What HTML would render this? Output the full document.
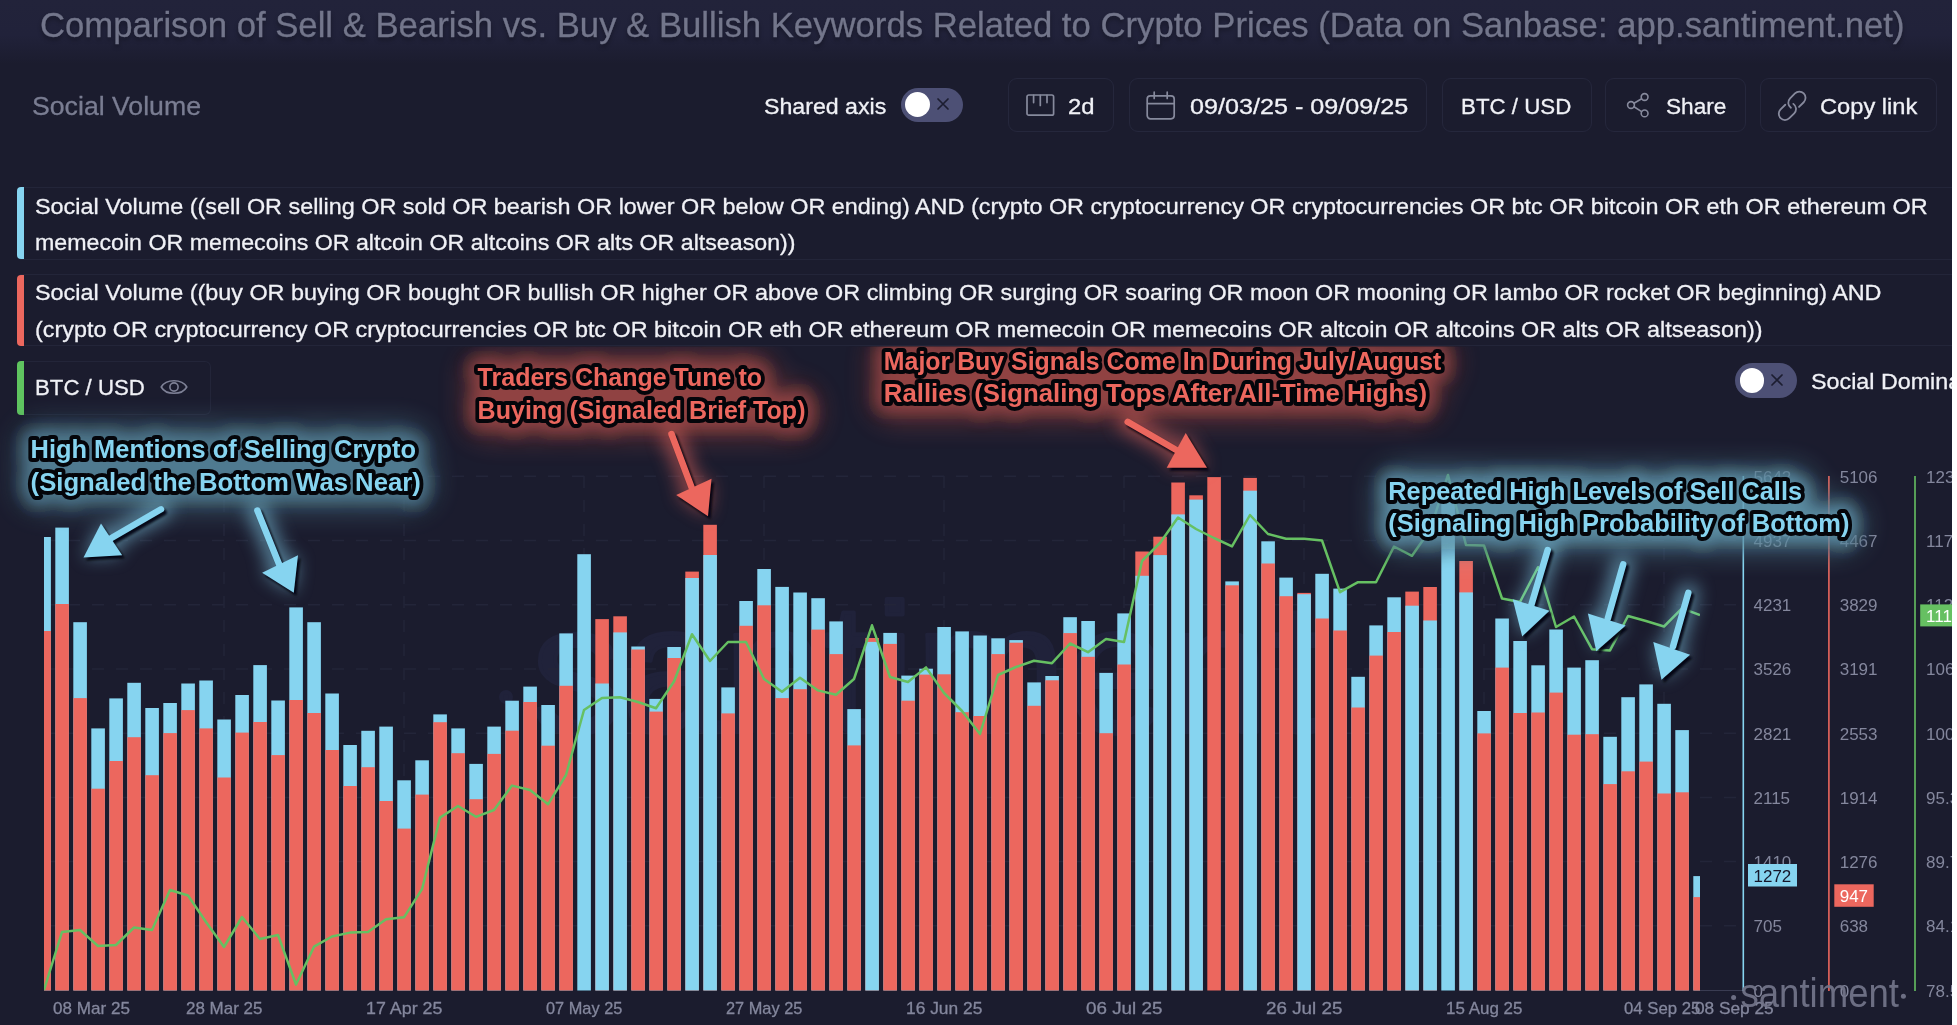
<!DOCTYPE html>
<html lang="en">
<head>
<meta charset="utf-8">
<title>Social Volume - Sell vs Buy keywords</title>
<style>
html,body{margin:0;padding:0;background:#1b1c2e;}
body{width:1957px;height:1025px;overflow:hidden;font-family:"Liberation Sans",sans-serif;}
#page{position:relative;width:1957px;height:1025px;overflow:hidden;background:#1b1c2e;}
#topgrad{position:absolute;left:0;top:0;width:1957px;height:64px;
  background:linear-gradient(#22233a 0%,#21223a 55%,#1b1c2e 100%);}
.t{-webkit-text-stroke:0.3px currentColor;position:absolute;white-space:pre;line-height:1;transform-origin:0 0;font-family:"Liberation Sans",sans-serif;}
.btn{position:absolute;box-sizing:border-box;border:1.5px solid #25273c;border-radius:9px;top:77.8px;height:53.8px;}
.row{position:absolute;box-sizing:border-box;border:1.3px solid #232539;border-left:none;border-radius:0 6px 6px 0;}
.bar{position:absolute;width:7.2px;border-radius:4px 0 0 4px;}
.tog{position:absolute;background:#4d5075;border-radius:18px;}
.knob{position:absolute;background:#ffffff;border-radius:50%;}
.ico{position:absolute;overflow:visible;}
#txt{position:absolute;left:0;top:0;width:1957px;height:1025px;will-change:transform;}
#strip{position:absolute;left:1952px;top:0;width:5px;height:1025px;background:#ffffff;}
</style>
</head>
<body>
<div id="page">
<div id="topgrad"></div>

<!-- toolbar buttons -->
<div class="btn" style="left:1008.2px;width:105.5px"></div>
<div class="btn" style="left:1129.1px;width:297.6px"></div>
<div class="btn" style="left:1442px;width:149.5px"></div>
<div class="btn" style="left:1605.2px;width:140.5px"></div>
<div class="btn" style="left:1759.5px;width:177.8px"></div>

<!-- shared axis toggle -->
<div class="tog" style="left:901px;top:87.9px;width:61.8px;height:34px"></div>
<div class="knob" style="left:905.2px;top:92.2px;width:25px;height:25px"></div>
<svg class="ico" style="left:936.8px;top:97.6px" width="12" height="12" viewBox="0 0 12 12"><path d="M1 1 L11 11 M11 1 L1 11" stroke="#1c1d30" stroke-width="1.7" stroke-linecap="round" fill="none"/></svg>

<!-- ruler icon -->
<svg class="ico" style="left:1026.4px;top:93.5px" width="29" height="23" viewBox="0 0 29 23"><g fill="none" stroke="#878a9d" stroke-width="1.7" stroke-linejoin="round" stroke-linecap="round"><rect x="1" y="1" width="26.6" height="20.2" rx="1.8"/><path d="M7.6 1.4 V8.6 M14.3 1.4 V11.4 M21 1.4 V8.6"/></g></svg>

<!-- calendar icon -->
<svg class="ico" style="left:1146px;top:90.5px" width="30" height="30" viewBox="0 0 30 30"><g fill="none" stroke="#878a9d" stroke-width="1.7" stroke-linejoin="round" stroke-linecap="round"><rect x="1.2" y="4.8" width="27" height="23" rx="3.2"/><path d="M1.6 12.6 H27.8 M8.2 1.2 V7.4 M21.2 1.2 V7.4"/></g></svg>

<!-- share icon -->
<svg class="ico" style="left:1626px;top:91.8px" width="25" height="27" viewBox="0 0 25 27"><g fill="none" stroke="#878a9d" stroke-width="1.6" stroke-linecap="round"><circle cx="18.6" cy="5" r="3.4"/><circle cx="5" cy="13" r="3.4"/><circle cx="18.6" cy="21.4" r="3.4"/><path d="M8 11.2 L15.6 6.8 M8 14.8 L15.6 19.6"/></g></svg>

<!-- link icon -->
<svg class="ico" style="left:1777px;top:90.8px" width="30" height="30" viewBox="0 0 30 30"><g fill="none" stroke="#878a9d" stroke-width="1.8" stroke-linecap="round" stroke-linejoin="round"><path transform="translate(19.9 9.3) rotate(-45)" d="M-9.55 1.08 A6.2 6.2 0 0 1 -3.45 -6.2 L3.45 -6.2 A6.2 6.2 0 0 1 3.45 6.2 L-3.2 6.2"/><path transform="translate(10.4 20.4) rotate(135)" d="M-9.55 1.08 A6.2 6.2 0 0 1 -3.45 -6.2 L3.45 -6.2 A6.2 6.2 0 0 1 3.45 6.2 L-3.2 6.2"/></g></svg>

<!-- legend rows -->
<div class="row" style="left:20px;top:187.3px;width:1940px;height:72.4px"></div>
<div class="bar" style="left:16.6px;top:187.3px;height:72.2px;background:#86d4f0"></div>
<div class="row" style="left:20px;top:274.4px;width:1940px;height:71.6px"></div>
<div class="bar" style="left:16.6px;top:274.6px;height:71.2px;background:#ec675e"></div>
<div class="row" style="left:20px;top:360.7px;width:190.6px;height:54.6px"></div>
<div class="bar" style="left:16.6px;top:360.7px;height:54.6px;background:#5fc45f"></div>

<!-- eye icon -->
<svg class="ico" style="left:159.6px;top:377.2px" width="28" height="20" viewBox="0 0 28 20"><g fill="none" stroke="#7e8196" stroke-width="1.6" stroke-linejoin="round"><path d="M1.2 10 C6 1.6 22 1.6 26.8 10 C22 18.4 6 18.4 1.2 10 Z"/><circle cx="14" cy="10" r="4.1"/></g></svg>

<!-- social dominance toggle -->
<div class="tog" style="left:1734.9px;top:363px;width:62.1px;height:35.3px"></div>
<div class="knob" style="left:1739.5px;top:368.4px;width:24.4px;height:24.4px"></div>
<svg class="ico" style="left:1770.6px;top:373.6px" width="12" height="12" viewBox="0 0 12 12"><path d="M1 1 L11 11 M11 1 L1 11" stroke="#1c1d30" stroke-width="1.7" stroke-linecap="round" fill="none"/></svg>

<div id="txt">
<span class="t" style="left:40.4px;top:7.7px;font-size:34.5px;color:#73768b;font-weight:400;transform:scaleX(1.0055);text-shadow:0 3px 4px rgba(0,0,0,.35);">Comparison of Sell &amp; Bearish vs. Buy &amp; Bullish Keywords Related to Crypto Prices (Data on Sanbase: app.santiment.net)</span>
<span class="t" style="left:31.9px;top:92.8px;font-size:26px;color:#7a7d92;font-weight:400;transform:scaleX(1.0257);">Social Volume</span>
<span class="t" style="left:764.3px;top:95.9px;font-size:22.2px;color:#f0f1f6;font-weight:400;transform:scaleX(1.0438);">Shared axis</span>
<span class="t" style="left:1068.3px;top:95.9px;font-size:22.2px;color:#f0f1f6;font-weight:400;transform:scaleX(1.0734);">2d</span>
<span class="t" style="left:1189.9px;top:95.9px;font-size:22.2px;color:#f0f1f6;font-weight:400;transform:scaleX(1.1338);">09/03/25 - 09/09/25</span>
<span class="t" style="left:1461.2px;top:95.8px;font-size:22.2px;color:#f0f1f6;font-weight:400;transform:scaleX(1.0053);">BTC / USD</span>
<span class="t" style="left:1665.6px;top:95.8px;font-size:22.2px;color:#f0f1f6;font-weight:400;transform:scaleX(1.0199);">Share</span>
<span class="t" style="left:1820.0px;top:95.8px;font-size:22.2px;color:#f0f1f6;font-weight:400;transform:scaleX(1.0661);">Copy link</span>
<span class="t" style="left:34.5px;top:196.3px;font-size:22.6px;color:#f0f1f6;font-weight:400;transform:scaleX(1.0352);">Social Volume ((sell OR selling OR sold OR bearish OR lower OR below OR ending) AND (crypto OR cryptocurrency OR cryptocurrencies OR btc OR bitcoin OR eth OR ethereum OR</span>
<span class="t" style="left:34.5px;top:232.1px;font-size:22.6px;color:#f0f1f6;font-weight:400;transform:scaleX(1.0266);">memecoin OR memecoins OR altcoin OR altcoins OR alts OR altseason))</span>
<span class="t" style="left:34.5px;top:282.4px;font-size:22.6px;color:#f0f1f6;font-weight:400;transform:scaleX(1.0348);">Social Volume ((buy OR buying OR bought OR bullish OR higher OR above OR climbing OR surging OR soaring OR moon OR mooning OR lambo OR rocket OR beginning) AND</span>
<span class="t" style="left:34.5px;top:318.9px;font-size:22.6px;color:#f0f1f6;font-weight:400;transform:scaleX(1.0337);">(crypto OR cryptocurrency OR cryptocurrencies OR btc OR bitcoin OR eth OR ethereum OR memecoin OR memecoins OR altcoin OR altcoins OR alts OR altseason))</span>
<span class="t" style="left:35.0px;top:376.7px;font-size:22.6px;color:#f0f1f6;font-weight:400;transform:scaleX(0.9836);">BTC / USD</span>
<span class="t" style="left:1811.0px;top:371.2px;font-size:22.6px;color:#f0f1f6;font-weight:400;transform:scaleX(1.0312);">Social Dominance</span>
<span class="t" style="left:186.0px;top:1000.1px;font-size:17px;color:#84879d;font-weight:400;transform:scaleX(0.9981);">28 Mar 25</span>
<span class="t" style="left:366.1px;top:1000.1px;font-size:17px;color:#84879d;font-weight:400;transform:scaleX(1.0497);">17 Apr 25</span>
<span class="t" style="left:545.8px;top:1000.1px;font-size:17px;color:#84879d;font-weight:400;transform:scaleX(0.9623);">07 May 25</span>
<span class="t" style="left:725.8px;top:1000.1px;font-size:17px;color:#84879d;font-weight:400;transform:scaleX(0.9623);">27 May 25</span>
<span class="t" style="left:905.8px;top:1000.1px;font-size:17px;color:#84879d;font-weight:400;transform:scaleX(1.0229);">16 Jun 25</span>
<span class="t" style="left:1085.8px;top:1000.1px;font-size:17px;color:#84879d;font-weight:400;transform:scaleX(1.1072);">06 Jul 25</span>
<span class="t" style="left:1265.8px;top:1000.1px;font-size:17px;color:#84879d;font-weight:400;transform:scaleX(1.1072);">26 Jul 25</span>
<span class="t" style="left:1445.8px;top:1000.1px;font-size:17px;color:#84879d;font-weight:400;transform:scaleX(0.9977);">15 Aug 25</span>
<span class="t" style="left:1623.5px;top:1000.1px;font-size:17px;color:#84879d;font-weight:400;transform:scaleX(0.9856);">04 Sep 25</span>
<span class="t" style="left:52.9px;top:1000.1px;font-size:17px;color:#84879d;font-weight:400;transform:scaleX(1.0046);">08 Mar 25</span>
<span class="t" style="left:1694.6px;top:1000.1px;font-size:17px;color:#84879d;font-weight:400;transform:scaleX(1.0153);">08 Sep 25</span>
</div>
<svg id="chart" width="1957" height="1025" viewBox="0 0 1957 1025" style="position:absolute;left:0;top:0;will-change:transform" font-family="Liberation Sans, sans-serif">
<defs><clipPath id="anc"><rect x="0" y="346.5" width="1957" height="680"/></clipPath><clipPath id="plot"><rect x="44" y="470" width="1656" height="525"/></clipPath><filter id="glow" x="-20%" y="-80%" width="140%" height="260%"><feGaussianBlur stdDeviation="13"/></filter><filter id="glowd" x="-15%" y="-90%" width="130%" height="280%"><feGaussianBlur stdDeviation="9"/></filter><filter id="glowt" x="-10%" y="-60%" width="120%" height="220%"><feGaussianBlur stdDeviation="7.5"/></filter><filter id="glow2" x="-80%" y="-80%" width="260%" height="260%"><feGaussianBlur stdDeviation="9"/></filter><filter id="sh" x="-30%" y="-30%" width="160%" height="160%"><feGaussianBlur stdDeviation="1.2"/></filter></defs>
<g fill="#20223a" stroke="#20223a" stroke-width="4" stroke-linejoin="round"><circle cx="506" cy="697" r="5"/><text x="531" y="732" font-size="184" textLength="788" lengthAdjust="spacingAndGlyphs">santiment</text></g>
<g stroke="#232539" stroke-width="1.5" stroke-dasharray="12 12" fill="none"><path d="M44 476.3 H1742"/><path d="M44 540.5 H1742"/><path d="M44 604.7 H1742"/><path d="M44 669 H1742"/><path d="M44 733.2 H1742"/><path d="M44 797.4 H1742"/><path d="M44 861.6 H1742"/><path d="M44 925.8 H1742"/><path d="M224 476 V990"/><path d="M404 476 V990"/><path d="M584 476 V990"/><path d="M764 476 V990"/><path d="M944 476 V990"/><path d="M1124 476 V990"/><path d="M1304 476 V990"/><path d="M1484 476 V990"/><path d="M1664 476 V990"/></g>
<g clip-path="url(#plot)" shape-rendering="auto"><rect x="37.3" y="537" width="13.6" height="453.5" fill="#86d4f0"/><rect x="37.3" y="631" width="13.6" height="359.5" fill="#ec675e"/><rect x="55.3" y="527.6" width="13.6" height="462.9" fill="#86d4f0"/><rect x="55.3" y="604" width="13.6" height="386.5" fill="#ec675e"/><rect x="73.3" y="622.2" width="13.6" height="368.3" fill="#86d4f0"/><rect x="73.3" y="698.1" width="13.6" height="292.4" fill="#ec675e"/><rect x="91.3" y="728.4" width="13.6" height="262.1" fill="#86d4f0"/><rect x="91.3" y="788.7" width="13.6" height="201.8" fill="#ec675e"/><rect x="109.3" y="698.4" width="13.6" height="292.1" fill="#86d4f0"/><rect x="109.3" y="761" width="13.6" height="229.5" fill="#ec675e"/><rect x="127.3" y="682.8" width="13.6" height="307.7" fill="#86d4f0"/><rect x="127.3" y="737.2" width="13.6" height="253.3" fill="#ec675e"/><rect x="145.3" y="708" width="13.6" height="282.5" fill="#86d4f0"/><rect x="145.3" y="775.2" width="13.6" height="215.3" fill="#ec675e"/><rect x="163.3" y="703" width="13.6" height="287.5" fill="#86d4f0"/><rect x="163.3" y="733.1" width="13.6" height="257.4" fill="#ec675e"/><rect x="181.3" y="683.5" width="13.6" height="307" fill="#86d4f0"/><rect x="181.3" y="710.1" width="13.6" height="280.4" fill="#ec675e"/><rect x="199.3" y="680.5" width="13.6" height="310" fill="#86d4f0"/><rect x="199.3" y="728.4" width="13.6" height="262.1" fill="#ec675e"/><rect x="217.3" y="719.5" width="13.6" height="271" fill="#86d4f0"/><rect x="217.3" y="777.5" width="13.6" height="213" fill="#ec675e"/><rect x="235.3" y="695" width="13.6" height="295.5" fill="#86d4f0"/><rect x="235.3" y="732.6" width="13.6" height="257.9" fill="#ec675e"/><rect x="253.3" y="665.1" width="13.6" height="325.4" fill="#86d4f0"/><rect x="253.3" y="722" width="13.6" height="268.5" fill="#ec675e"/><rect x="271.3" y="700.5" width="13.6" height="290" fill="#86d4f0"/><rect x="271.3" y="755.1" width="13.6" height="235.4" fill="#ec675e"/><rect x="289.3" y="607.4" width="13.6" height="383.1" fill="#86d4f0"/><rect x="289.3" y="700" width="13.6" height="290.5" fill="#ec675e"/><rect x="307.3" y="622.2" width="13.6" height="368.3" fill="#86d4f0"/><rect x="307.3" y="713" width="13.6" height="277.5" fill="#ec675e"/><rect x="325.3" y="693.5" width="13.6" height="297" fill="#86d4f0"/><rect x="325.3" y="750" width="13.6" height="240.5" fill="#ec675e"/><rect x="343.3" y="745" width="13.6" height="245.5" fill="#86d4f0"/><rect x="343.3" y="786" width="13.6" height="204.5" fill="#ec675e"/><rect x="361.3" y="730.8" width="13.6" height="259.7" fill="#86d4f0"/><rect x="361.3" y="767.2" width="13.6" height="223.3" fill="#ec675e"/><rect x="379.3" y="726.6" width="13.6" height="263.9" fill="#86d4f0"/><rect x="379.3" y="801" width="13.6" height="189.5" fill="#ec675e"/><rect x="397.3" y="780.3" width="13.6" height="210.2" fill="#86d4f0"/><rect x="397.3" y="828.6" width="13.6" height="161.9" fill="#ec675e"/><rect x="415.3" y="760.3" width="13.6" height="230.2" fill="#86d4f0"/><rect x="415.3" y="794.6" width="13.6" height="195.9" fill="#ec675e"/><rect x="433.3" y="714.4" width="13.6" height="276.1" fill="#86d4f0"/><rect x="433.3" y="722.2" width="13.6" height="268.3" fill="#ec675e"/><rect x="451.3" y="728.4" width="13.6" height="262.1" fill="#86d4f0"/><rect x="451.3" y="753.2" width="13.6" height="237.3" fill="#ec675e"/><rect x="469.3" y="763.9" width="13.6" height="226.6" fill="#86d4f0"/><rect x="469.3" y="799.2" width="13.6" height="191.3" fill="#ec675e"/><rect x="487.3" y="726.6" width="13.6" height="263.9" fill="#86d4f0"/><rect x="487.3" y="753.9" width="13.6" height="236.6" fill="#ec675e"/><rect x="505.3" y="700.7" width="13.6" height="289.8" fill="#86d4f0"/><rect x="505.3" y="730.7" width="13.6" height="259.8" fill="#ec675e"/><rect x="523.3" y="686.6" width="13.6" height="303.9" fill="#86d4f0"/><rect x="523.3" y="702" width="13.6" height="288.5" fill="#ec675e"/><rect x="541.3" y="705" width="13.6" height="285.5" fill="#86d4f0"/><rect x="541.3" y="745.7" width="13.6" height="244.8" fill="#ec675e"/><rect x="559.3" y="633.4" width="13.6" height="357.1" fill="#86d4f0"/><rect x="559.3" y="685.8" width="13.6" height="304.7" fill="#ec675e"/><rect x="577.3" y="554.2" width="13.6" height="436.3" fill="#86d4f0"/><rect x="595.3" y="619.1" width="13.6" height="371.4" fill="#ec675e"/><rect x="595.3" y="683.5" width="13.6" height="307" fill="#86d4f0"/><rect x="613.3" y="616.3" width="13.6" height="374.2" fill="#ec675e"/><rect x="613.3" y="632.4" width="13.6" height="358.1" fill="#86d4f0"/><rect x="631.3" y="646.5" width="13.6" height="344" fill="#86d4f0"/><rect x="631.3" y="649.5" width="13.6" height="341" fill="#ec675e"/><rect x="649.3" y="698.9" width="13.6" height="291.6" fill="#86d4f0"/><rect x="649.3" y="711.6" width="13.6" height="278.9" fill="#ec675e"/><rect x="667.3" y="647" width="13.6" height="343.5" fill="#86d4f0"/><rect x="667.3" y="658" width="13.6" height="332.5" fill="#ec675e"/><rect x="685.3" y="571.6" width="13.6" height="418.9" fill="#ec675e"/><rect x="685.3" y="578" width="13.6" height="412.5" fill="#86d4f0"/><rect x="703.3" y="524.8" width="13.6" height="465.7" fill="#ec675e"/><rect x="703.3" y="555" width="13.6" height="435.5" fill="#86d4f0"/><rect x="721.3" y="687.4" width="13.6" height="303.1" fill="#86d4f0"/><rect x="721.3" y="713.4" width="13.6" height="277.1" fill="#ec675e"/><rect x="739.3" y="601" width="13.6" height="389.5" fill="#86d4f0"/><rect x="739.3" y="625.8" width="13.6" height="364.7" fill="#ec675e"/><rect x="757.3" y="569" width="13.6" height="421.5" fill="#86d4f0"/><rect x="757.3" y="605.3" width="13.6" height="385.2" fill="#ec675e"/><rect x="775.3" y="586.9" width="13.6" height="403.6" fill="#86d4f0"/><rect x="775.3" y="698.1" width="13.6" height="292.4" fill="#ec675e"/><rect x="793.3" y="592.5" width="13.6" height="398" fill="#86d4f0"/><rect x="793.3" y="689.2" width="13.6" height="301.3" fill="#ec675e"/><rect x="811.3" y="598.2" width="13.6" height="392.3" fill="#86d4f0"/><rect x="811.3" y="629.6" width="13.6" height="360.9" fill="#ec675e"/><rect x="829.3" y="621.4" width="13.6" height="369.1" fill="#86d4f0"/><rect x="829.3" y="654.1" width="13.6" height="336.4" fill="#ec675e"/><rect x="847.3" y="709.1" width="13.6" height="281.4" fill="#86d4f0"/><rect x="847.3" y="745.4" width="13.6" height="245.1" fill="#ec675e"/><rect x="865.3" y="638" width="13.6" height="352.5" fill="#ec675e"/><rect x="865.3" y="641.9" width="13.6" height="348.6" fill="#86d4f0"/><rect x="883.3" y="632.9" width="13.6" height="357.6" fill="#86d4f0"/><rect x="883.3" y="643.9" width="13.6" height="346.6" fill="#ec675e"/><rect x="901.3" y="675.6" width="13.6" height="314.9" fill="#86d4f0"/><rect x="901.3" y="700.7" width="13.6" height="289.8" fill="#ec675e"/><rect x="919.3" y="668.7" width="13.6" height="321.8" fill="#86d4f0"/><rect x="919.3" y="674.6" width="13.6" height="315.9" fill="#ec675e"/><rect x="937.3" y="627" width="13.6" height="363.5" fill="#86d4f0"/><rect x="937.3" y="674.3" width="13.6" height="316.2" fill="#ec675e"/><rect x="955.3" y="631.4" width="13.6" height="359.1" fill="#86d4f0"/><rect x="955.3" y="712.2" width="13.6" height="278.3" fill="#ec675e"/><rect x="973.3" y="635.5" width="13.6" height="355" fill="#86d4f0"/><rect x="973.3" y="716" width="13.6" height="274.5" fill="#ec675e"/><rect x="991.3" y="638.3" width="13.6" height="352.2" fill="#86d4f0"/><rect x="991.3" y="654.1" width="13.6" height="336.4" fill="#ec675e"/><rect x="1009.3" y="640.1" width="13.6" height="350.4" fill="#86d4f0"/><rect x="1009.3" y="642.7" width="13.6" height="347.8" fill="#ec675e"/><rect x="1027.3" y="682.4" width="13.6" height="308.1" fill="#86d4f0"/><rect x="1027.3" y="705.8" width="13.6" height="284.7" fill="#ec675e"/><rect x="1045.3" y="676" width="13.6" height="314.5" fill="#86d4f0"/><rect x="1045.3" y="680.3" width="13.6" height="310.2" fill="#ec675e"/><rect x="1063.3" y="617.2" width="13.6" height="373.3" fill="#86d4f0"/><rect x="1063.3" y="633.1" width="13.6" height="357.4" fill="#ec675e"/><rect x="1081.3" y="621" width="13.6" height="369.5" fill="#86d4f0"/><rect x="1081.3" y="656.8" width="13.6" height="333.7" fill="#ec675e"/><rect x="1099.3" y="672.9" width="13.6" height="317.6" fill="#86d4f0"/><rect x="1099.3" y="733.2" width="13.6" height="257.3" fill="#ec675e"/><rect x="1117.3" y="613.4" width="13.6" height="377.1" fill="#86d4f0"/><rect x="1117.3" y="664.5" width="13.6" height="326" fill="#ec675e"/><rect x="1135.3" y="551.5" width="13.6" height="439" fill="#ec675e"/><rect x="1135.3" y="575.8" width="13.6" height="414.7" fill="#86d4f0"/><rect x="1153.3" y="536.7" width="13.6" height="453.8" fill="#ec675e"/><rect x="1153.3" y="555.1" width="13.6" height="435.4" fill="#86d4f0"/><rect x="1171.3" y="482.5" width="13.6" height="508" fill="#ec675e"/><rect x="1171.3" y="514.4" width="13.6" height="476.1" fill="#86d4f0"/><rect x="1189.3" y="495.3" width="13.6" height="495.2" fill="#ec675e"/><rect x="1189.3" y="499.6" width="13.6" height="490.9" fill="#86d4f0"/><rect x="1207.3" y="477.1" width="13.6" height="513.4" fill="#ec675e"/><rect x="1225.3" y="581.4" width="13.6" height="409.1" fill="#86d4f0"/><rect x="1225.3" y="585.3" width="13.6" height="405.2" fill="#ec675e"/><rect x="1243.3" y="477.9" width="13.6" height="512.6" fill="#ec675e"/><rect x="1243.3" y="490.7" width="13.6" height="499.8" fill="#86d4f0"/><rect x="1261.3" y="541.3" width="13.6" height="449.2" fill="#86d4f0"/><rect x="1261.3" y="563.5" width="13.6" height="427" fill="#ec675e"/><rect x="1279.3" y="577.6" width="13.6" height="412.9" fill="#86d4f0"/><rect x="1279.3" y="596.2" width="13.6" height="394.3" fill="#ec675e"/><rect x="1297.3" y="592.9" width="13.6" height="397.6" fill="#ec675e"/><rect x="1297.3" y="594.2" width="13.6" height="396.3" fill="#86d4f0"/><rect x="1315.3" y="573.8" width="13.6" height="416.7" fill="#86d4f0"/><rect x="1315.3" y="618.5" width="13.6" height="372" fill="#ec675e"/><rect x="1333.3" y="588.6" width="13.6" height="401.9" fill="#86d4f0"/><rect x="1333.3" y="630.5" width="13.6" height="360" fill="#ec675e"/><rect x="1351.3" y="676.8" width="13.6" height="313.7" fill="#86d4f0"/><rect x="1351.3" y="707.5" width="13.6" height="283" fill="#ec675e"/><rect x="1369.3" y="625.4" width="13.6" height="365.1" fill="#86d4f0"/><rect x="1369.3" y="655.6" width="13.6" height="334.9" fill="#ec675e"/><rect x="1387.3" y="597.3" width="13.6" height="393.2" fill="#86d4f0"/><rect x="1387.3" y="632" width="13.6" height="358.5" fill="#ec675e"/><rect x="1405.3" y="591.6" width="13.6" height="398.9" fill="#ec675e"/><rect x="1405.3" y="605.7" width="13.6" height="384.8" fill="#86d4f0"/><rect x="1423.3" y="587" width="13.6" height="403.5" fill="#ec675e"/><rect x="1423.3" y="620.5" width="13.6" height="370" fill="#86d4f0"/><rect x="1441.3" y="493" width="13.6" height="497.5" fill="#86d4f0"/><rect x="1459.3" y="561" width="13.6" height="429.5" fill="#ec675e"/><rect x="1459.3" y="592.4" width="13.6" height="398.1" fill="#86d4f0"/><rect x="1477.3" y="711" width="13.6" height="279.5" fill="#86d4f0"/><rect x="1477.3" y="733.4" width="13.6" height="257.1" fill="#ec675e"/><rect x="1495.3" y="618.5" width="13.6" height="372" fill="#86d4f0"/><rect x="1495.3" y="667.6" width="13.6" height="322.9" fill="#ec675e"/><rect x="1513.3" y="641" width="13.6" height="349.5" fill="#86d4f0"/><rect x="1513.3" y="713" width="13.6" height="277.5" fill="#ec675e"/><rect x="1531.3" y="665.3" width="13.6" height="325.2" fill="#86d4f0"/><rect x="1531.3" y="712.5" width="13.6" height="278" fill="#ec675e"/><rect x="1549.3" y="629.5" width="13.6" height="361" fill="#86d4f0"/><rect x="1549.3" y="692.6" width="13.6" height="297.9" fill="#ec675e"/><rect x="1567.3" y="667.6" width="13.6" height="322.9" fill="#86d4f0"/><rect x="1567.3" y="734.7" width="13.6" height="255.8" fill="#ec675e"/><rect x="1585.3" y="660.2" width="13.6" height="330.3" fill="#86d4f0"/><rect x="1585.3" y="734.2" width="13.6" height="256.3" fill="#ec675e"/><rect x="1603.3" y="736.8" width="13.6" height="253.7" fill="#86d4f0"/><rect x="1603.3" y="784.1" width="13.6" height="206.4" fill="#ec675e"/><rect x="1621.3" y="697.2" width="13.6" height="293.3" fill="#86d4f0"/><rect x="1621.3" y="771.3" width="13.6" height="219.2" fill="#ec675e"/><rect x="1639.3" y="684.4" width="13.6" height="306.1" fill="#86d4f0"/><rect x="1639.3" y="761.6" width="13.6" height="228.9" fill="#ec675e"/><rect x="1657.3" y="703.8" width="13.6" height="286.7" fill="#86d4f0"/><rect x="1657.3" y="793.5" width="13.6" height="197" fill="#ec675e"/><rect x="1675.3" y="730.1" width="13.6" height="260.4" fill="#86d4f0"/><rect x="1675.3" y="792.3" width="13.6" height="198.2" fill="#ec675e"/><rect x="1693.3" y="876.1" width="13.6" height="114.4" fill="#86d4f0"/><rect x="1693.3" y="897.1" width="13.6" height="93.4" fill="#ec675e"/></g>
<polyline clip-path="url(#plot)" points="44,990 62,932 80,930 98,946 116,945 134,927.5 152,930 170,890 188,895.5 206,922 224,947 242,917 260,939 278,935 296,984.5 314,946.7 332,936.5 350,932.6 368,932 386,919.3 404,917.3 422,889.2 440,817.6 458,806 476,816.8 494,810 512,785.6 530,790 548,804.3 566,775 584,710 602,698 620,697.3 638,702 656,708.3 674,681.5 692,634.2 710,661 728,642 746,642 764,679 782,691.7 800,677.7 818,690.4 836,694.8 854,679 872,625.3 890,677 908,682 926,667.4 944,693 962,711 980,734 998,675 1016,667 1034,660.7 1052,663.2 1070,643.5 1088,652.2 1106,639 1124,642 1142,561 1160,543 1178,517.5 1196,529 1214,538 1232,546.4 1250,515 1268,534 1286,538.7 1304,538.7 1322,540.5 1340,592.2 1358,582.2 1376,582.2 1394,546.5 1412,555.8 1430,530 1448,475 1466,545 1484,545.5 1502,598.5 1520,602 1538,567.2 1556,627 1574,616.5 1592,649.2 1610,650.4 1628,616 1646,621 1664,626.5 1682,608.4 1700,615" fill="none" stroke="#66c062" stroke-width="2.5" stroke-linejoin="round"/>
<path d="M1700 990.5 H1743" stroke="#3a3c52" stroke-width="1"/>
<path d="M1743.3 476 V991" stroke="#86d4f0" stroke-width="1.6"/>
<path d="M1828.9 476 V991" stroke="#ec675e" stroke-width="1.6"/>
<path d="M1915 476 V991" stroke="#66c062" stroke-width="1.6"/>
<g font-size="17" fill="#84879d">
<text x="1753.5" y="482.6">5642</text><text x="1839.7" y="482.6">5106</text><text x="1926" y="482.6">123K</text>
<text x="1753.5" y="546.8">4937</text><text x="1839.7" y="546.8">4467</text><text x="1926" y="546.8">117K</text>
<text x="1753.5" y="611">4231</text><text x="1839.7" y="611">3829</text><text x="1926" y="611">112K</text>
<text x="1753.5" y="675.3">3526</text><text x="1839.7" y="675.3">3191</text><text x="1926" y="675.3">106K</text>
<text x="1753.5" y="739.5">2821</text><text x="1839.7" y="739.5">2553</text><text x="1926" y="739.5">100K</text>
<text x="1753.5" y="803.7">2115</text><text x="1839.7" y="803.7">1914</text><text x="1926" y="803.7">95.3K</text>
<text x="1753.5" y="867.9">1410</text><text x="1839.7" y="867.9">1276</text><text x="1926" y="867.9">89.7K</text>
<text x="1753.5" y="932.1">705</text><text x="1839.7" y="932.1">638</text><text x="1926" y="932.1">84.1K</text>
<text x="1753.5" y="997.3">0</text><text x="1839.7" y="997.3">0</text><text x="1926" y="997.3">78.5K</text>
</g>
<rect x="1748" y="864" width="49" height="22.5" fill="#86d4f0"/><text x="1753.5" y="881.6" font-size="17" fill="#15162a">1272</text>
<rect x="1834.3" y="884.3" width="39.4" height="22.5" fill="#ec675e"/><text x="1839.7" y="901.9" font-size="17" fill="#ffffff">947</text>
<rect x="1920.2" y="604.4" width="40" height="22" fill="#66c062"/><text x="1926" y="621.8" font-size="17" fill="#ffffff">111K</text>
<g clip-path="url(#anc)">
<g filter="url(#glowd)" opacity="0.62" fill="#0b0c16" stroke="#0b0c16" stroke-width="34" stroke-linejoin="round" font-size="26.5" font-weight="700"><text x="30.6" y="457.6" textLength="385.4" lengthAdjust="spacingAndGlyphs">High Mentions of Selling Crypto</text><text x="30.6" y="490.5" textLength="390.2" lengthAdjust="spacingAndGlyphs">(Signaled the Bottom Was Near)</text></g>
<g filter="url(#glow)" opacity="0.3" fill="#86d4f0" stroke="#86d4f0" stroke-linejoin="round"><rect x="30.6" y="437.6" width="385.4" height="26" rx="12" stroke-width="30"/><rect x="30.6" y="470.5" width="390.2" height="26" rx="12" stroke-width="30"/></g>
<g filter="url(#glowt)" opacity="0.34" fill="#86d4f0" stroke="#86d4f0" stroke-width="22" stroke-linejoin="round" font-size="26.5" font-weight="700"><text x="30.6" y="457.6" textLength="385.4" lengthAdjust="spacingAndGlyphs">High Mentions of Selling Crypto</text><text x="30.6" y="490.5" textLength="390.2" lengthAdjust="spacingAndGlyphs">(Signaled the Bottom Was Near)</text></g>
<g filter="url(#glow2)" opacity="0.55"><line x1="161" y1="509.3" x2="108" y2="540" stroke="#86d4f0" stroke-width="20" stroke-linecap="round"/><path d="M83.5 557.5 L101 523.4 L122.2 555.2 Z" fill="#86d4f0"/><line x1="257.4" y1="510.5" x2="279.7" y2="565.7" stroke="#86d4f0" stroke-width="20" stroke-linecap="round"/><path d="M293.8 592.8 L262.1 572.8 L298 555.2 Z" fill="#86d4f0"/></g>
<g filter="url(#sh)" opacity="0.9" transform="translate(2.5,3)"><line x1="161" y1="509.3" x2="108" y2="540" stroke="#05060c" stroke-width="6.5" stroke-linecap="round"/><path d="M83.5 557.5 L101 523.4 L122.2 555.2 Z" fill="#05060c"/><line x1="257.4" y1="510.5" x2="279.7" y2="565.7" stroke="#05060c" stroke-width="6.5" stroke-linecap="round"/><path d="M293.8 592.8 L262.1 572.8 L298 555.2 Z" fill="#05060c"/></g>
<line x1="161" y1="509.3" x2="108" y2="540" stroke="#86d4f0" stroke-width="6.5" stroke-linecap="round"/><path d="M83.5 557.5 L101 523.4 L122.2 555.2 Z" fill="#86d4f0"/>
<line x1="257.4" y1="510.5" x2="279.7" y2="565.7" stroke="#86d4f0" stroke-width="6.5" stroke-linecap="round"/><path d="M293.8 592.8 L262.1 572.8 L298 555.2 Z" fill="#86d4f0"/>
<text x="30.6" y="457.6" font-size="26.5" font-weight="700" fill="#86d4f0" stroke="#04050a" stroke-width="8" stroke-linejoin="round" paint-order="stroke" textLength="385.4" lengthAdjust="spacingAndGlyphs">High Mentions of Selling Crypto</text>
<text x="30.6" y="490.5" font-size="26.5" font-weight="700" fill="#86d4f0" stroke="#04050a" stroke-width="8" stroke-linejoin="round" paint-order="stroke" textLength="390.2" lengthAdjust="spacingAndGlyphs">(Signaled the Bottom Was Near)</text>
<g filter="url(#glowd)" opacity="0.62" fill="#0b0c16" stroke="#0b0c16" stroke-width="34" stroke-linejoin="round" font-size="26.5" font-weight="700"><text x="477.6" y="385.8" textLength="284.4" lengthAdjust="spacingAndGlyphs">Traders Change Tune to</text><text x="477.6" y="418.7" textLength="327.9" lengthAdjust="spacingAndGlyphs">Buying (Signaled Brief Top)</text></g>
<g filter="url(#glow)" opacity="0.32" fill="#ec675e" stroke="#ec675e" stroke-linejoin="round"><rect x="477.6" y="365.8" width="284.4" height="26" rx="12" stroke-width="30"/><rect x="477.6" y="398.7" width="327.9" height="26" rx="12" stroke-width="30"/></g>
<g filter="url(#glowt)" opacity="0.38" fill="#ec675e" stroke="#ec675e" stroke-width="22" stroke-linejoin="round" font-size="26.5" font-weight="700"><text x="477.6" y="385.8" textLength="284.4" lengthAdjust="spacingAndGlyphs">Traders Change Tune to</text><text x="477.6" y="418.7" textLength="327.9" lengthAdjust="spacingAndGlyphs">Buying (Signaled Brief Top)</text></g>
<g filter="url(#glow2)" opacity="0.55"><line x1="671.5" y1="434" x2="692.7" y2="490.4" stroke="#ec675e" stroke-width="20" stroke-linecap="round"/><path d="M708 516.3 L676.2 495.1 L711.5 478.7 Z" fill="#ec675e"/></g>
<g filter="url(#sh)" opacity="0.9" transform="translate(2.5,3)"><line x1="671.5" y1="434" x2="692.7" y2="490.4" stroke="#05060c" stroke-width="6.5" stroke-linecap="round"/><path d="M708 516.3 L676.2 495.1 L711.5 478.7 Z" fill="#05060c"/></g>
<line x1="671.5" y1="434" x2="692.7" y2="490.4" stroke="#ec675e" stroke-width="6.5" stroke-linecap="round"/><path d="M708 516.3 L676.2 495.1 L711.5 478.7 Z" fill="#ec675e"/>
<text x="477.6" y="385.8" font-size="26.5" font-weight="700" fill="#ec675e" stroke="#04050a" stroke-width="8" stroke-linejoin="round" paint-order="stroke" textLength="284.4" lengthAdjust="spacingAndGlyphs">Traders Change Tune to</text>
<text x="477.6" y="418.7" font-size="26.5" font-weight="700" fill="#ec675e" stroke="#04050a" stroke-width="8" stroke-linejoin="round" paint-order="stroke" textLength="327.9" lengthAdjust="spacingAndGlyphs">Buying (Signaled Brief Top)</text>
<g filter="url(#glowd)" opacity="0.62" fill="#0b0c16" stroke="#0b0c16" stroke-width="34" stroke-linejoin="round" font-size="26.5" font-weight="700"><text x="883.8" y="369.6" textLength="557.6" lengthAdjust="spacingAndGlyphs">Major Buy Signals Come In During July/August</text><text x="883.8" y="402.2" textLength="543.4" lengthAdjust="spacingAndGlyphs">Rallies (Signaling Tops After All-Time Highs)</text></g>
<g filter="url(#glow)" opacity="0.32" fill="#ec675e" stroke="#ec675e" stroke-linejoin="round"><rect x="883.8" y="349.6" width="557.6" height="26" rx="12" stroke-width="30"/><rect x="883.8" y="382.2" width="543.4" height="26" rx="12" stroke-width="30"/></g>
<g filter="url(#glowt)" opacity="0.38" fill="#ec675e" stroke="#ec675e" stroke-width="22" stroke-linejoin="round" font-size="26.5" font-weight="700"><text x="883.8" y="369.6" textLength="557.6" lengthAdjust="spacingAndGlyphs">Major Buy Signals Come In During July/August</text><text x="883.8" y="402.2" textLength="543.4" lengthAdjust="spacingAndGlyphs">Rallies (Signaling Tops After All-Time Highs)</text></g>
<g filter="url(#glow2)" opacity="0.55"><line x1="1127.7" y1="421.9" x2="1178" y2="451" stroke="#ec675e" stroke-width="20" stroke-linecap="round"/><path d="M1207 467.8 L1185.7 433 L1166.7 467.8 Z" fill="#ec675e"/></g>
<g filter="url(#sh)" opacity="0.9" transform="translate(2.5,3)"><line x1="1127.7" y1="421.9" x2="1178" y2="451" stroke="#05060c" stroke-width="6.5" stroke-linecap="round"/><path d="M1207 467.8 L1185.7 433 L1166.7 467.8 Z" fill="#05060c"/></g>
<line x1="1127.7" y1="421.9" x2="1178" y2="451" stroke="#ec675e" stroke-width="6.5" stroke-linecap="round"/><path d="M1207 467.8 L1185.7 433 L1166.7 467.8 Z" fill="#ec675e"/>
<text x="883.8" y="369.6" font-size="26.5" font-weight="700" fill="#ec675e" stroke="#04050a" stroke-width="8" stroke-linejoin="round" paint-order="stroke" textLength="557.6" lengthAdjust="spacingAndGlyphs">Major Buy Signals Come In During July/August</text>
<text x="883.8" y="402.2" font-size="26.5" font-weight="700" fill="#ec675e" stroke="#04050a" stroke-width="8" stroke-linejoin="round" paint-order="stroke" textLength="543.4" lengthAdjust="spacingAndGlyphs">Rallies (Signaling Tops After All-Time Highs)</text>
<g filter="url(#glowd)" opacity="0.62" fill="#0b0c16" stroke="#0b0c16" stroke-width="34" stroke-linejoin="round" font-size="26.5" font-weight="700"><text x="1388.3" y="500.4" textLength="413.7" lengthAdjust="spacingAndGlyphs">Repeated High Levels of Sell Calls</text><text x="1388.3" y="532" textLength="461.1" lengthAdjust="spacingAndGlyphs">(Signaling High Probability of Bottom)</text></g>
<g filter="url(#glow)" opacity="0.36" fill="#86d4f0" stroke="#86d4f0" stroke-linejoin="round"><rect x="1388.3" y="480.4" width="413.7" height="26" rx="12" stroke-width="30"/><rect x="1388.3" y="512" width="461.1" height="26" rx="12" stroke-width="30"/></g>
<g filter="url(#glowt)" opacity="0.42" fill="#86d4f0" stroke="#86d4f0" stroke-width="22" stroke-linejoin="round" font-size="26.5" font-weight="700"><text x="1388.3" y="500.4" textLength="413.7" lengthAdjust="spacingAndGlyphs">Repeated High Levels of Sell Calls</text><text x="1388.3" y="532" textLength="461.1" lengthAdjust="spacingAndGlyphs">(Signaling High Probability of Bottom)</text></g>
<g filter="url(#glow2)" opacity="0.55"><line x1="1547.7" y1="550" x2="1531.1" y2="605.7" stroke="#86d4f0" stroke-width="20" stroke-linecap="round"/><path d="M1522.2 636.4 L1512.7 599.3 L1549.5 610.8 Z" fill="#86d4f0"/><line x1="1623.2" y1="564.3" x2="1607.8" y2="618.5" stroke="#86d4f0" stroke-width="20" stroke-linecap="round"/><path d="M1596.3 651.2 L1587.9 613.4 L1625.7 625.6 Z" fill="#86d4f0"/><line x1="1688.3" y1="592.9" x2="1673" y2="646.6" stroke="#86d4f0" stroke-width="20" stroke-linecap="round"/><path d="M1661.5 679.8 L1653.3 642 L1690.1 654.8 Z" fill="#86d4f0"/></g>
<g filter="url(#sh)" opacity="0.9" transform="translate(2.5,3)"><line x1="1547.7" y1="550" x2="1531.1" y2="605.7" stroke="#05060c" stroke-width="6.5" stroke-linecap="round"/><path d="M1522.2 636.4 L1512.7 599.3 L1549.5 610.8 Z" fill="#05060c"/><line x1="1623.2" y1="564.3" x2="1607.8" y2="618.5" stroke="#05060c" stroke-width="6.5" stroke-linecap="round"/><path d="M1596.3 651.2 L1587.9 613.4 L1625.7 625.6 Z" fill="#05060c"/><line x1="1688.3" y1="592.9" x2="1673" y2="646.6" stroke="#05060c" stroke-width="6.5" stroke-linecap="round"/><path d="M1661.5 679.8 L1653.3 642 L1690.1 654.8 Z" fill="#05060c"/></g>
<line x1="1547.7" y1="550" x2="1531.1" y2="605.7" stroke="#86d4f0" stroke-width="6.5" stroke-linecap="round"/><path d="M1522.2 636.4 L1512.7 599.3 L1549.5 610.8 Z" fill="#86d4f0"/>
<line x1="1623.2" y1="564.3" x2="1607.8" y2="618.5" stroke="#86d4f0" stroke-width="6.5" stroke-linecap="round"/><path d="M1596.3 651.2 L1587.9 613.4 L1625.7 625.6 Z" fill="#86d4f0"/>
<line x1="1688.3" y1="592.9" x2="1673" y2="646.6" stroke="#86d4f0" stroke-width="6.5" stroke-linecap="round"/><path d="M1661.5 679.8 L1653.3 642 L1690.1 654.8 Z" fill="#86d4f0"/>
<text x="1388.3" y="500.4" font-size="26.5" font-weight="700" fill="#86d4f0" stroke="#04050a" stroke-width="8" stroke-linejoin="round" paint-order="stroke" textLength="413.7" lengthAdjust="spacingAndGlyphs">Repeated High Levels of Sell Calls</text>
<text x="1388.3" y="532" font-size="26.5" font-weight="700" fill="#86d4f0" stroke="#04050a" stroke-width="8" stroke-linejoin="round" paint-order="stroke" textLength="461.1" lengthAdjust="spacingAndGlyphs">(Signaling High Probability of Bottom)</text>
</g>
<g fill="#73758a" opacity="0.93"><circle cx="1733.6" cy="997.5" r="2.5"/><circle cx="1903.4" cy="996.3" r="2.5"/><text x="1740.5" y="1007.4" font-size="41.5" textLength="158.5" lengthAdjust="spacingAndGlyphs">santiment</text></g>
</svg>
<div id="strip"></div>
</div>
</body>
</html>
